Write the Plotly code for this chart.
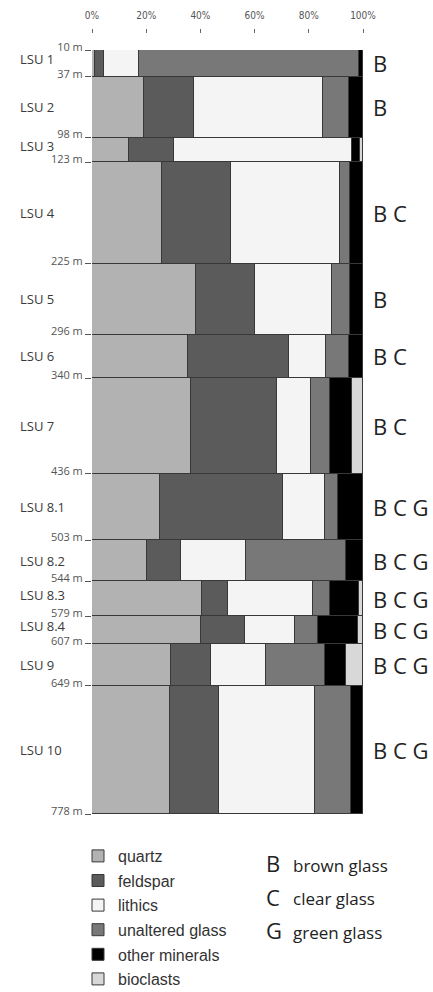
import plotly.graph_objects as go

# Lithostratigraphic units and their depth intervals (m)
units = ["LSU 1", "LSU 2", "LSU 3", "LSU 4", "LSU 5", "LSU 6", "LSU 7",
         "LSU 8.1", "LSU 8.2", "LSU 8.3", "LSU 8.4", "LSU 9", "LSU 10"]
depth_top = [10, 37, 98, 123, 225, 296, 340, 436, 503, 544, 579, 607, 649]
depth_bottom = [37, 98, 123, 225, 296, 340, 436, 503, 544, 579, 607, 649, 778]

# Composition of each unit (% of grains)
quartz = [1.0, 19.3, 13.8, 25.7, 38.5, 35.3, 36.4, 25.2, 20.4, 40.7, 40.2, 29.0, 28.6]
feldspar = [3.5, 18.3, 16.6, 25.6, 21.6, 37.3, 31.9, 45.3, 12.5, 9.5, 16.1, 15.0, 18.1]
lithics = [13.0, 47.8, 65.5, 40.3, 28.6, 13.9, 12.6, 15.3, 23.8, 31.3, 18.6, 20.2, 35.7]
unaltered_glass = [81.0, 9.3, 0.0, 3.7, 6.4, 8.2, 7.0, 5.0, 37.0, 6.5, 8.5, 21.6, 13.3]
other_minerals = [1.5, 5.3, 3.1, 4.7, 4.9, 5.3, 8.0, 9.2, 6.3, 10.4, 14.6, 7.9, 4.3]
bioclasts = [0.0, 0.0, 1.0, 0.0, 0.0, 0.0, 4.1, 0.0, 0.0, 1.6, 2.0, 6.3, 0.0]

# Volcanic glass types present in each unit
glass_types = ["B", "B", "", "B C", "B", "B C", "B C",
               "B C G", "B C G", "B C G", "B C G", "B C G", "B C G"]
glass_keys = ["B", "C", "G"]
glass_names = ["brown glass", "clear glass", "green glass"]

x_ticks = [0, 20, 40, 60, 80, 100]

components = [
    ("quartz", quartz, "#b2b2b2"),
    ("feldspar", feldspar, "#5b5b5b"),
    ("lithics", lithics, "#f4f4f4"),
    ("unaltered glass", unaltered_glass, "#787878"),
    ("other minerals", other_minerals, "#000000"),
    ("bioclasts", bioclasts, "#d8d8d8"),
]

mid = [(a + b) / 2 for a, b in zip(depth_top, depth_bottom)]
thick = [b - a for a, b in zip(depth_top, depth_bottom)]
boundaries = depth_top + [depth_bottom[-1]]

fig = go.Figure()
for i, (name, vals, color) in enumerate(components):
    fig.add_trace(go.Bar(
        name=name,
        orientation="h",
        y=mid,
        x=[v if v > 0 else None for v in vals],
        width=thick,
        marker=dict(color=color, line=dict(color="#383838", width=1)),
        legendgroup=f"g{i}",
        hoverinfo="skip",
    ))

# Page geometry (pixels); the legend lives below the bars
W, H = 433, 992
m_l, m_r, m_t, m_b = 92, 70, 33, 0
paper_h = H - m_t - m_b
bars_top_px, bars_bottom_px = 50, 814
y_domain = [(H - m_b - bars_bottom_px) / paper_h, (H - m_b - bars_top_px) / paper_h]


def py(px):
    """Paper y coordinate of a pixel row."""
    return (H - m_b - px) / paper_h


def px_x(px):
    """Paper x coordinate of a pixel column."""
    return (px - m_l) / (W - m_l - m_r)


annotations = []
for u, m, t in zip(units, mid, thick):
    # thin units carry their label slightly raised, clear of the depth ticks
    annotations.append(dict(
        x=px_x(18), xref="paper", y=m, yref="y", text=u, showarrow=False,
        xanchor="left", yanchor="middle", yshift=4 if t < 36 else 0,
        font=dict(family="Open Sans", size=13, color="#3a3a3a"),
    ))
for g, m in zip(glass_types, mid):
    if g:
        annotations.append(dict(
            x=px_x(371), xref="paper", y=m, yref="y", text=g, showarrow=False,
            xanchor="left", yanchor="middle",
            font=dict(family="Open Sans", size=22, color="#222222"),
        ))
for k, (key, label) in enumerate(zip(glass_keys, glass_names)):
    yc = 863 + k * 33.5
    annotations.append(dict(
        x=px_x(264), xref="paper", y=py(yc), yref="paper", text=key,
        showarrow=False, xanchor="left", yanchor="middle",
        font=dict(family="Open Sans", size=22, color="#222222"),
    ))
    annotations.append(dict(
        x=px_x(291), xref="paper", y=py(yc + 2), yref="paper", text=label,
        showarrow=False, xanchor="left", yanchor="middle",
        font=dict(family="Open Sans", size=17, color="#222222"),
    ))

fig.update_layout(
    width=W, height=H,
    margin=dict(l=m_l, r=m_r, t=m_t, b=m_b, pad=0, autoexpand=False),
    barmode="stack",
    bargap=0,
    paper_bgcolor="white",
    plot_bgcolor="white",
    showlegend=True,
    legend=dict(
        x=px_x(78), xanchor="left",
        y=py(839), yanchor="top",
        traceorder="grouped",
        tracegroupgap=0.8,
        font=dict(family="Liberation Sans", size=16, color="#333333"),
        bgcolor="rgba(0,0,0,0)",
    ),
    xaxis=dict(
        range=[0, 100],
        side="top",
        anchor="free",
        position=1,
        tickvals=x_ticks,
        ticktext=[f"{t}%" for t in x_ticks],
        ticks="outside", ticklen=4, tickcolor="#666666",
        ticklabelstandoff=6,
        tickfont=dict(family="Liberation Sans Narrow, DejaVu Sans Condensed", size=10, color="#555555"),
        showgrid=False, zeroline=False, showline=False,
        fixedrange=True,
    ),
    yaxis=dict(
        domain=y_domain,
        range=[depth_bottom[-1], depth_top[0]],
        tickvals=boundaries,
        ticktext=[f"{d} m" for d in boundaries],
        ticks="outside", ticklen=6, tickcolor="#555555",
        ticklabelshift=3,
        tickfont=dict(family="Open Sans", size=11, color="#555555"),
        showgrid=False, zeroline=False, showline=False,
        fixedrange=True,
    ),
    annotations=annotations,
)

fig.write_html("out.html")
